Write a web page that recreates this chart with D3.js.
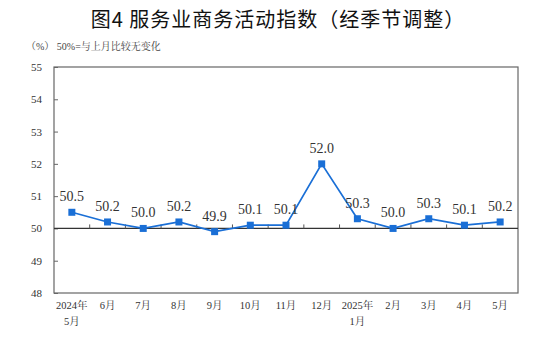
<!DOCTYPE html>
<html><head><meta charset="utf-8">
<script src="https://cdn.jsdelivr.net/npm/d3@7/dist/d3.min.js"></script>
<style>body{margin:0;background:#fff}
.sf{font-family:"Liberation Serif","Times New Roman","Noto Serif CJK SC","Noto Sans CJK SC",serif}
</style>
</head><body>
<svg id="c" width="554" height="340"></svg>
<script>
const categories = ["2024年\n5月","6月","7月","8月","9月","10月","11月","12月","2025年\n1月","2月","3月","4月","5月"];
const values = [50.5,50.2,50.0,50.2,49.9,50.1,50.1,52.0,50.3,50.0,50.3,50.1,50.2];
const yTicks = [48,49,50,51,52,53,54,55];

const svg = d3.select("#c");
const L=54,R=518,T=67,B=293;
const x = d3.scaleBand().domain(d3.range(categories.length)).range([L,R]);
const y = d3.scaleLinear().domain([48,55]).range([B,T]);

svg.append("text").attr("x",278).attr("y",27).attr("text-anchor","middle")
  .style("font-family","'Noto Sans CJK SC',sans-serif").attr("font-size",20).attr("font-weight",400)
  .attr("letter-spacing",1).attr("fill","#111")
  .text("图4  服务业商务活动指数（经季节调整）");
svg.append("text").attr("class","sf").attr("x",26).attr("y",50).attr("font-size",10).attr("fill","#444")
  .text("（%） 50%=与上月比较无变化");

// frame
svg.append("rect").attr("x",L).attr("y",T).attr("width",R-L).attr("height",B-T)
  .attr("fill","none").attr("stroke","#666").attr("stroke-width",1.2);

// y axis
const ya = svg.append("g").attr("transform",`translate(${L},0)`)
  .call(d3.axisLeft(y).tickValues(yTicks).tickSize(-4).tickPadding(12).tickFormat(d3.format("d")));
ya.attr("font-family",null);
ya.select(".domain").remove();
ya.selectAll("line").attr("stroke","#666");
ya.selectAll("text").attr("class","sf").attr("font-size",11).attr("fill","#333");

// 50 baseline with ticks at band boundaries
svg.append("line").attr("x1",L).attr("x2",R).attr("y1",y(50)).attr("y2",y(50)).attr("stroke","#333").attr("stroke-width",1.2);
svg.selectAll(".bt").data(d3.range(1,categories.length)).join("line")
  .attr("x1",i=>x(i)).attr("x2",i=>x(i)).attr("y1",y(50)).attr("y2",y(50)-4).attr("stroke","#555");

// x labels
const xl = svg.selectAll(".xl").data(categories).join("text")
  .attr("class","sf").attr("text-anchor","middle").attr("font-size",10.5).attr("fill","#333");
xl.each(function(d,i){
  const parts=d.split("\n");
  parts.forEach((p,k)=>d3.select(this).append("tspan").attr("x",x(i)+x.bandwidth()/2).attr("y",309+k*16).text(p));
});

// line
const cx = i=>x(i)+x.bandwidth()/2;
svg.append("path").datum(values).attr("fill","none").attr("stroke","#1a6fd6").attr("stroke-width",1.7)
  .attr("d",d3.line().x((d,i)=>cx(i)).y(d=>y(d)));
svg.selectAll(".m").data(values).join("rect")
  .attr("x",(d,i)=>cx(i)-3.5).attr("y",d=>y(d)-3.5).attr("width",7).attr("height",7).attr("fill","#1a6fd6");
svg.selectAll(".lb").data(values).join("text").attr("class","sf")
  .attr("x",(d,i)=>cx(i)).attr("y",d=>y(d)-11).attr("text-anchor","middle")
  .attr("font-size",14).attr("fill","#333").text(d=>d.toFixed(1));
</script>
</body></html>
